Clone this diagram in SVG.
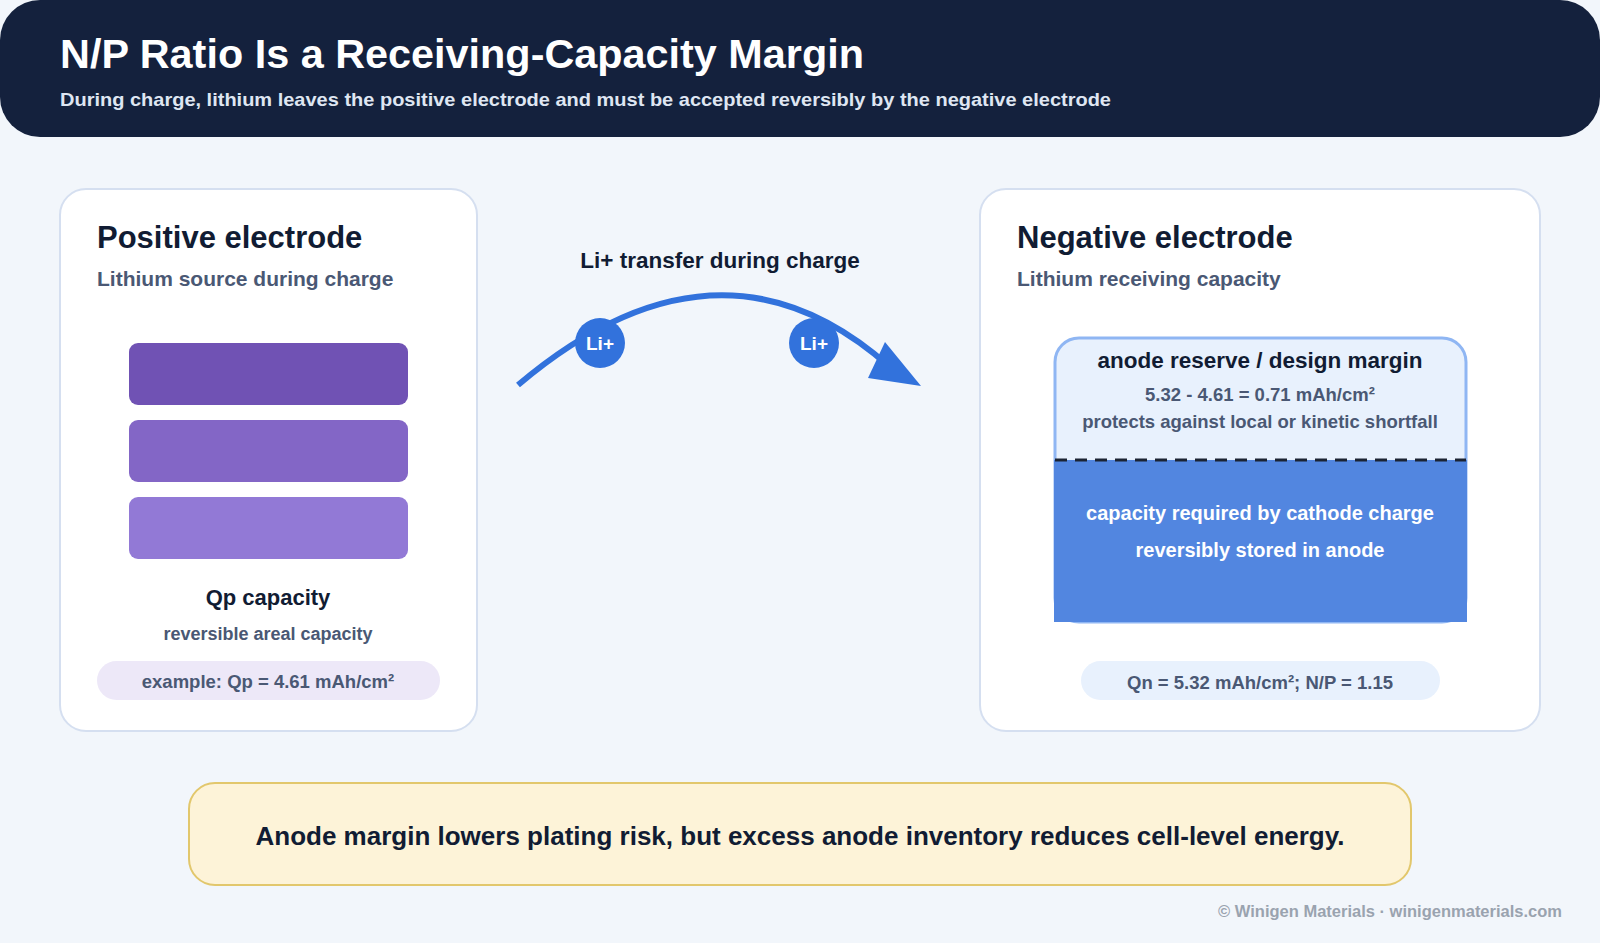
<svg xmlns="http://www.w3.org/2000/svg" width="1600" height="943" viewBox="0 0 1600 943">
<style>
text{font-family:"Liberation Sans",Arial,sans-serif;font-weight:bold}
.card{fill:#fff;stroke:#d5dff0;stroke-width:2}
.h2{font-size:31px;fill:#111c33}
.sub{font-size:21px;fill:#4a5874}
.c{text-anchor:middle}
</style>
<rect width="1600" height="943" fill="#f2f6fb"/>
<g id="header">
<rect x="0" y="0" width="1600" height="137" rx="40" fill="#14213d"/>
<text x="60" y="68" font-size="41" fill="#fff" textLength="804" lengthAdjust="spacingAndGlyphs">N/P Ratio Is a Receiving-Capacity Margin</text>
<text x="60" y="106" font-size="19" fill="#dfe6f2" textLength="1051" lengthAdjust="spacingAndGlyphs">During charge, lithium leaves the positive electrode and must be accepted reversibly by the negative electrode</text>
</g>
<g id="positive">
<rect class="card" x="60" y="189" width="417" height="542" rx="26"/>
<text class="h2" x="97" y="248">Positive electrode</text>
<text class="sub" x="97" y="286">Lithium source during charge</text>
<rect x="129" y="343" width="279" height="62" rx="9" fill="#7052b4"/>
<rect x="129" y="420" width="279" height="62" rx="9" fill="#8366c6"/>
<rect x="129" y="497" width="279" height="62" rx="9" fill="#9279d6"/>
<text class="c" x="268" y="605" font-size="22" fill="#111c33">Qp capacity</text>
<text class="c" x="268" y="640" font-size="18" fill="#4a5874">reversible areal capacity</text>
<rect x="97" y="661" width="343" height="39" rx="19.5" fill="#ede8f8"/>
<text class="c" x="268" y="688" font-size="18.5" fill="#4a5874">example: Qp = 4.61 mAh/cm²</text>
</g>
<g id="connectors">
<text class="c" x="720" y="268" font-size="22.5" fill="#111c33">Li+ transfer during charge</text>
<path d="M518 385 Q719 215 890 367" fill="none" stroke="#3272dc" stroke-width="6"/>
<polygon points="921,386 885,342 868,378" fill="#3272dc"/>
<circle cx="600" cy="343" r="25" fill="#3272dc"/>
<text class="c" x="600" y="350" font-size="19" fill="#fff">Li+</text>
<circle cx="814" cy="343" r="25" fill="#3272dc"/>
<text class="c" x="814" y="350" font-size="19" fill="#fff">Li+</text>
</g>
<g id="negative">
<rect class="card" x="980" y="189" width="560" height="542" rx="26"/>
<text class="h2" x="1017" y="248">Negative electrode</text>
<text class="sub" x="1017" y="286">Lithium receiving capacity</text>
<rect x="1055" y="338" width="411" height="284" rx="24" fill="#e8f1fd" stroke="#8fb6f3" stroke-width="3"/>
<path d="M1054 460 H1467 V622 H1054 Z" fill="#5286e0"/>
<line x1="1055" y1="460" x2="1466" y2="460" stroke="#1b2333" stroke-width="3" stroke-dasharray="12 8"/>
<text class="c" x="1260" y="368" font-size="22.5" fill="#111c33">anode reserve / design margin</text>
<text class="c" x="1260" y="401" font-size="18.5" fill="#4a5874">5.32 - 4.61 = 0.71 mAh/cm²</text>
<text class="c" x="1260" y="428" font-size="18.5" fill="#4a5874">protects against local or kinetic shortfall</text>
<text class="c" x="1260" y="520" font-size="20" fill="#fff">capacity required by cathode charge</text>
<text class="c" x="1260" y="557" font-size="20" fill="#fff">reversibly stored in anode</text>
<rect x="1081" y="661" width="359" height="39" rx="19.5" fill="#e8f1fd"/>
<text class="c" x="1260" y="689" font-size="18.5" fill="#4a5874">Qn = 5.32 mAh/cm²; N/P = 1.15</text>
</g>
<g id="note">
<rect x="189" y="783" width="1222" height="102" rx="26" fill="#fdf3d8" stroke="#e2c76c" stroke-width="2"/>
<text class="c" x="800" y="845" font-size="26" fill="#111c33">Anode margin lowers plating risk, but excess anode inventory reduces cell-level energy.</text>
</g>
<text x="1562" y="917" text-anchor="end" font-size="16.5" fill="#9aa3af">© Winigen Materials · winigenmaterials.com</text>
</svg>
